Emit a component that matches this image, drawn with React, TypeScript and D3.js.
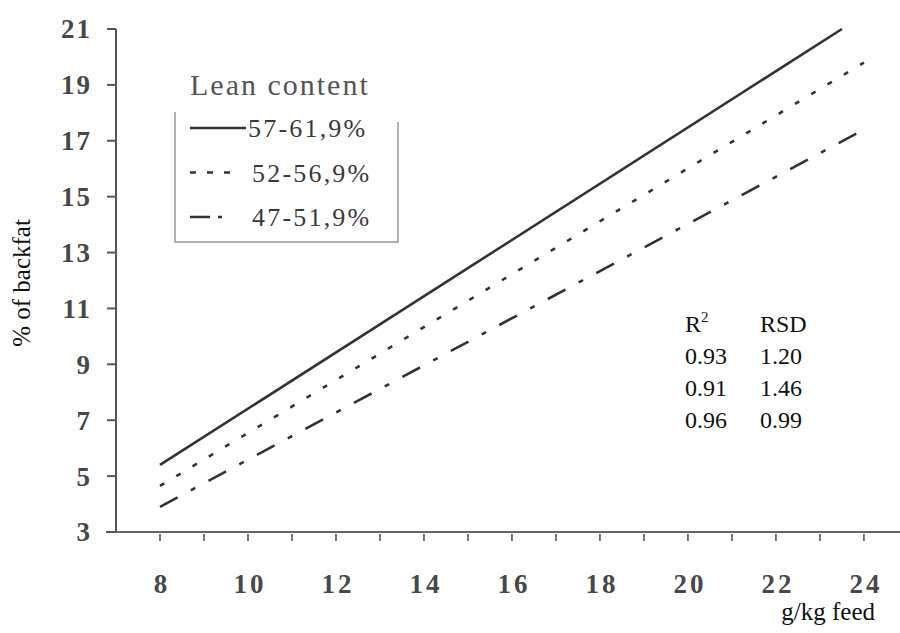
import * as d3 from 'd3';

// lean-content groups: fitted lines
const seriesNames = ['57-61,9%', '52-56,9%', '47-51,9%'];
const lean57 = [
  { x: 8, y: 5.4 },
  { x: 23.5, y: 21.0 },
];
const lean52 = [
  { x: 8, y: 4.65 },
  { x: 24, y: 19.8 },
];
const lean47 = [
  { x: 8, y: 3.9 },
  { x: 24, y: 17.4 },
];
const yTicks = [3, 5, 7, 9, 11, 13, 15, 17, 19, 21];
const xLabels = [8, 10, 12, 14, 16, 18, 20, 22, 24];
const xMinor = [8, 9, 10, 11, 12, 13, 14, 15, 16, 17, 18, 19, 20, 21, 22, 23, 24];
const statHeader = ['R', 'RSD'];
const r2Values = ['0.93', '0.91', '0.96'];
const rsdValues = ['1.20', '1.46', '0.99'];

const W = 900;
const H = 633;
const FONT = '"Liberation Serif", "Times New Roman", serif';
const INK = '#333';

const dashes = ['none', '5,14', '20,15,5,15'];
const legendDashes = ['none', '6,11', '20,8,4,100'];

export default function App() {
  const x = d3.scaleLinear().domain([7, 24.82]).range([116, 900]);
  const y = d3.scaleLinear().domain([3, 21]).range([532, 29]);

  const line = d3
    .line<{ x: number; y: number }>()
    .x((d) => x(d.x))
    .y((d) => y(d.y));

  const series = [lean57, lean52, lean47];

  // legend box
  const lg = { left: 175, top: 112, right: 398, bottom: 242 };

  return (
    <svg
      width={W}
      height={H}
      style={{ position: 'absolute', left: 0, top: 0, background: '#fff' }}
      fontFamily={FONT}
    >
      <rect width={W} height={H} fill="#fff" />

      {/* axes */}
      <line x1={x(7)} x2={x(7)} y1={y(21)} y2={y(3)} stroke="#555" strokeWidth={2} />
      <line x1={x(7) - 10} x2={W} y1={y(3)} y2={y(3)} stroke="#666" strokeWidth={2} />

      {yTicks.map((t) => (
        <g key={`y${t}`}>
          <line x1={x(7) - 9} x2={x(7)} y1={y(t)} y2={y(t)} stroke="#555" strokeWidth={2} />
          <text
            x={92}
            y={y(t)}
            dy="0.35em"
            textAnchor="end"
            fontSize={27}
            fontWeight="bold"
            letterSpacing={2}
            fill="#484848"
          >
            {t}
          </text>
        </g>
      ))}

      {xMinor.map((t) => (
        <line key={`xm${t}`} x1={x(t)} x2={x(t)} y1={y(3) + 2} y2={y(3) + 9} stroke="#555" strokeWidth={1.6} />
      ))}
      {xLabels.map((t) => (
        <text
          key={`x${t}`}
          x={x(t) + 2}
          y={593}
          textAnchor="middle"
          fontSize={27}
          fontWeight="bold"
          letterSpacing={3}
          fill="#484848"
        >
          {t}
        </text>
      ))}

      {/* axis titles */}
      <text
        transform={`translate(30, 283) rotate(-90)`}
        textAnchor="middle"
        fontSize={25}
        fill="#111"
      >
        % of backfat
      </text>
      <text x={875} y={620} textAnchor="end" fontSize={25} fill="#111">
        g/kg feed
      </text>

      {/* regression lines */}
      {series.map((s, i) => (
        <path
          key={seriesNames[i]}
          d={line(s) ?? ''}
          fill="none"
          stroke={INK}
          strokeWidth={2.6}
          strokeDasharray={dashes[i]}
        />
      ))}

      {/* legend */}
      <path
        d={`M${lg.left},${lg.top} V${lg.bottom} H${lg.right} V${lg.top + 10}`}
        fill="none"
        stroke="#999"
        strokeWidth={1.5}
      />
      <text x={190} y={95} fontSize={30} letterSpacing={2} fill="#555">
        Lean content
      </text>
      {seriesNames.map((name, i) => {
        const cy = 128 + i * 44.5;
        return (
          <g key={`lg${name}`}>
            <line
              x1={190}
              x2={i === 0 ? 246 : i === 1 ? 236 : 228}
              y1={cy}
              y2={cy}
              stroke={INK}
              strokeWidth={2.4}
              strokeDasharray={legendDashes[i]}
            />
            <text x={i === 0 ? 248 : 252} y={cy + 9} fontSize={26} letterSpacing={2.2} fill="#3a3a3a">
              {name}
            </text>
          </g>
        );
      })}

      {/* fit statistics */}
      <text x={685} y={332} fontSize={24} fill="#111">
        {statHeader[0]}
        <tspan fontSize={15} dy={-10}>
          2
        </tspan>
      </text>
      <text x={760} y={332} fontSize={24} fill="#111">
        {statHeader[1]}
      </text>
      {r2Values.map((v, i) => (
        <g key={`st${i}`}>
          <text x={685} y={364 + i * 32} fontSize={24} fill="#111">
            {v}
          </text>
          <text x={760} y={364 + i * 32} fontSize={24} fill="#111">
            {rsdValues[i]}
          </text>
        </g>
      ))}
    </svg>
  );
}
